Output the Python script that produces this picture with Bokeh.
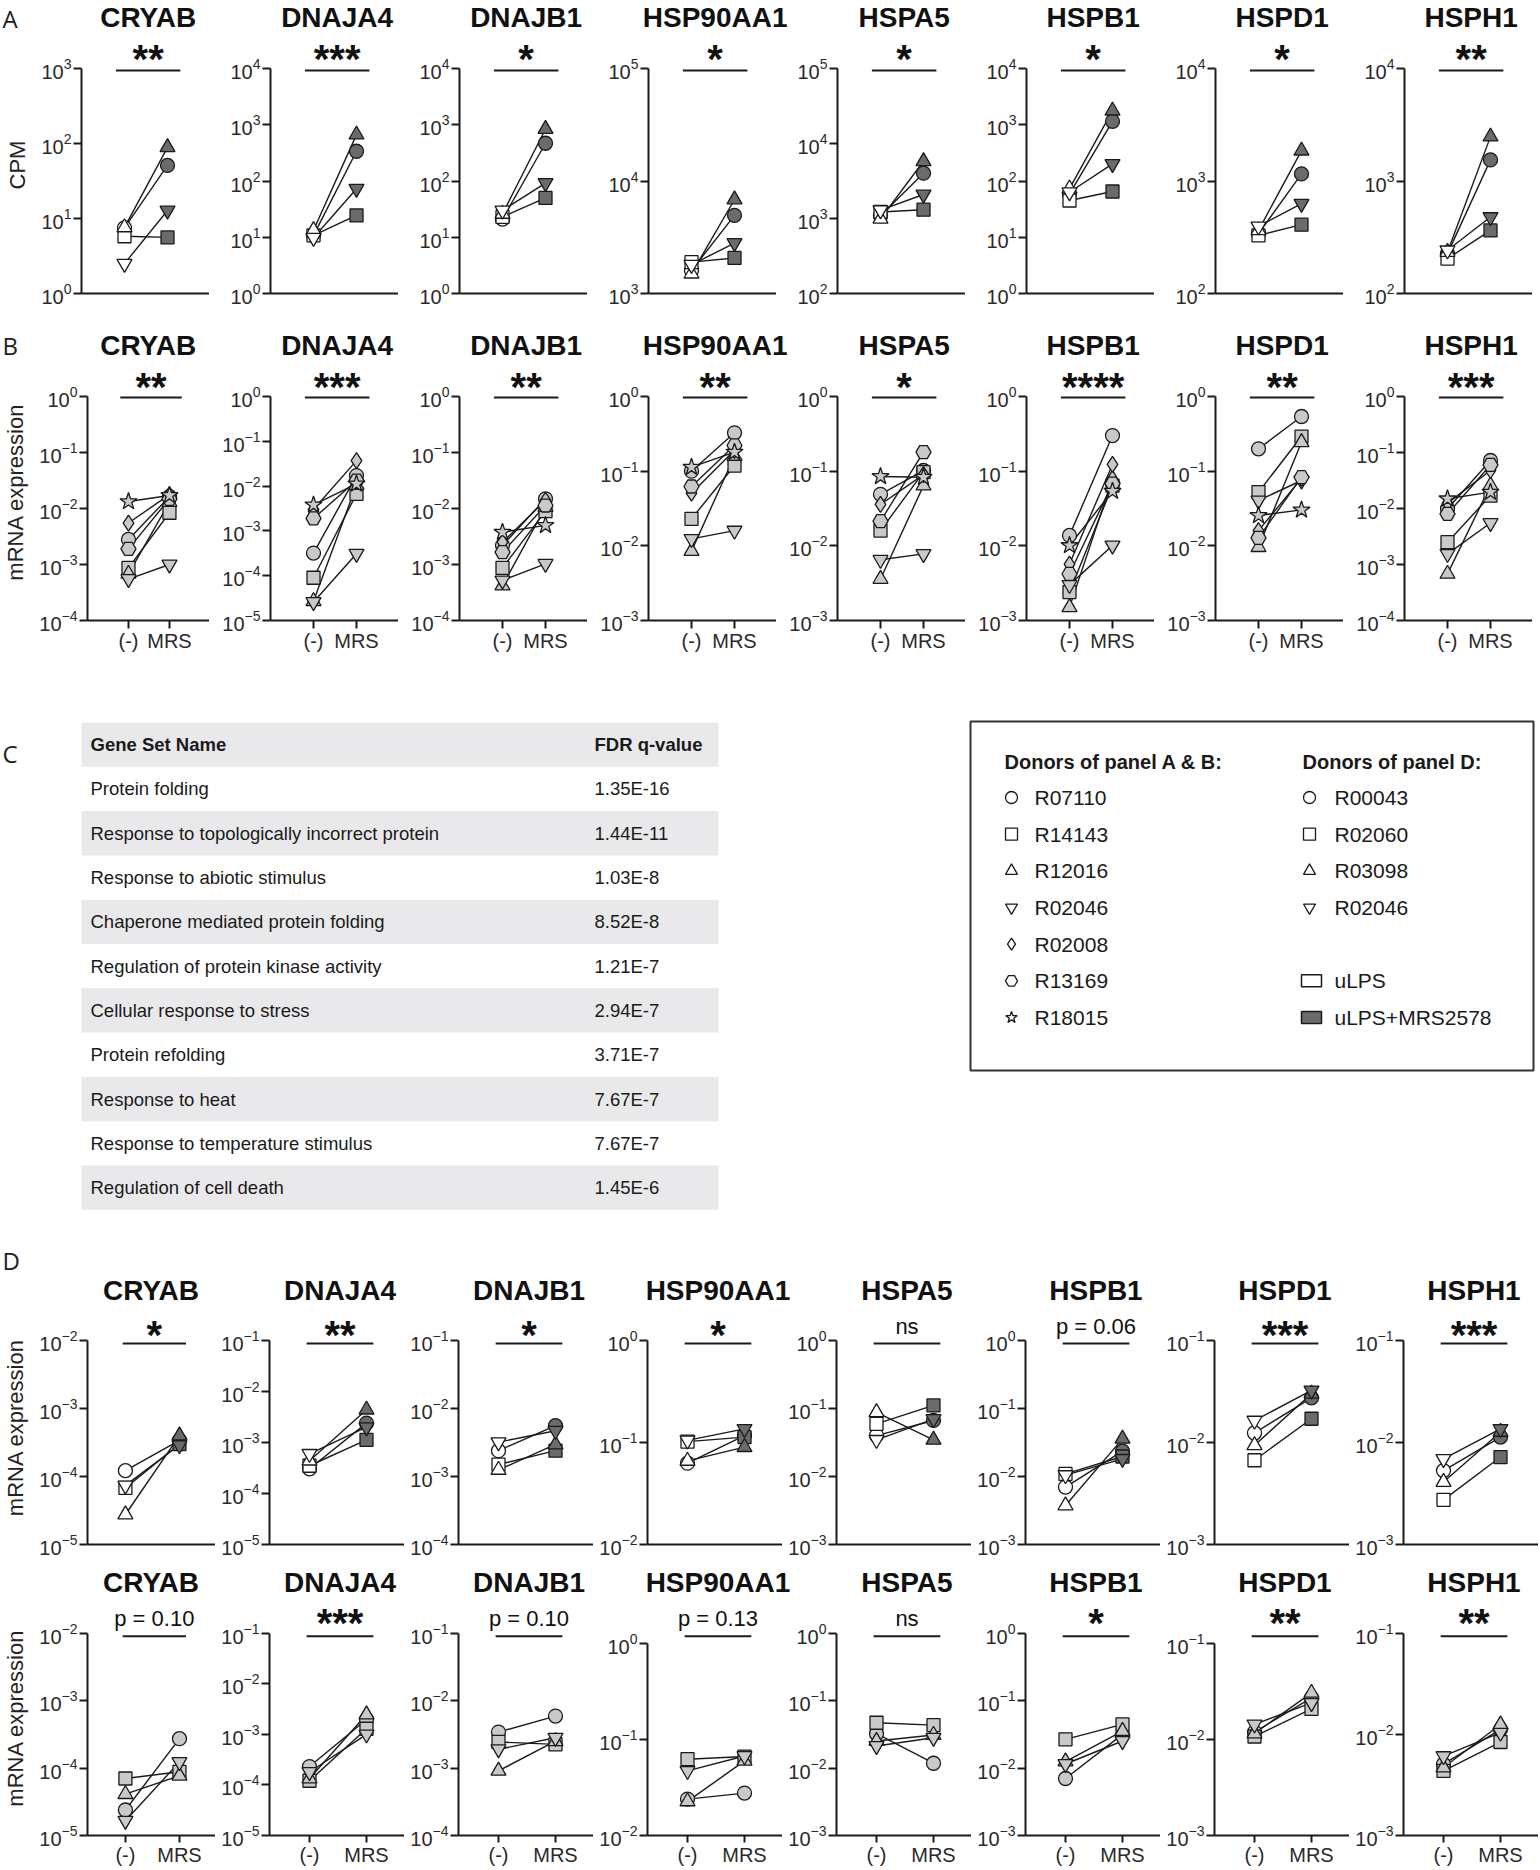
import math
from bokeh.plotting import figure
from bokeh.layouts import column, row
from bokeh.models import Range1d, FixedTicker, ColumnDataSource
from bokeh.core.properties import value
from bokeh.embed import file_html
from bokeh.resources import INLINE

# ---------------- data ----------------
GENES = ["CRYAB", "DNAJA4", "DNAJB1", "HSP90AA1", "HSPA5", "HSPB1", "HSPD1", "HSPH1"]
X_LABELS = ["(-)", "MRS"]

DONORS_AB = ["R07110", "R14143", "R12016", "R02046", "R02008", "R13169", "R18015"]
MARKERS_AB = ["circle", "square", "triangle", "inverted_triangle", "diamond", "hex", "star"]
DONORS_D = ["R00043", "R02060", "R03098", "R02046"]
MARKERS_D = ["circle", "square", "triangle", "inverted_triangle"]

# panel A: CPM (log10 decades of each y axis)
A_DECADES = [(0, 3), (0, 4), (0, 4), (3, 5), (2, 5), (0, 4), (2, 4), (2, 4)]
A_SIG = ["**", "***", "*", "*", "*", "*", "*", "**"]
A_NEG = {
    "R07110": [7.5, 10.8, 21, 1600, 1090, 59, 340, 226],
    "R14143": [5.8, 10.8, 23, 1900, 1220, 45, 329, 204],
    "R12016": [7.6, 13.3, 26, 1500, 990, 73, 364, 234],
    "R02046": [2.5, 9.8, 30, 1800, 1290, 63, 395, 242],
}
A_MRS = {
    "R07110": [51, 338, 469, 4950, 4020, 1150, 1156, 1540],
    "R14143": [5.6, 24.4, 50, 2070, 1310, 65, 409, 364],
    "R12016": [89, 667, 841, 6850, 5800, 1780, 1860, 2480],
    "R02046": [12.8, 73, 92, 2810, 2090, 201, 628, 478],
}

# panel B: mRNA expression
B_DECADES = [(-4, 0), (-5, 0), (-4, 0), (-3, 0), (-3, 0), (-3, 0), (-3, 0), (-4, 0)]
B_SIG = ["**", "***", "**", "**", "*", "****", "**", "***"]
B_NEG = {
    "R07110": [0.0028, 0.00032, 0.0022, 0.100, 0.049, 0.0138, 0.199, 0.0099],
    "R14143": [0.00087, 0.00009, 0.00087, 0.023, 0.016, 0.0024, 0.0524, 0.0025],
    "R12016": [0.00068, 0.000027, 0.00042, 0.0085, 0.0036, 0.0015, 0.0096, 0.00068],
    "R02046": [0.00055, 0.000026, 0.00052, 0.0124, 0.0065, 0.0030, 0.0405, 0.00155],
    "R02008": [0.0055, 0.0030, 0.0025, 0.0507, 0.0358, 0.0057, 0.016, 0.0125],
    "R13169": [0.0019, 0.0019, 0.00166, 0.0623, 0.0214, 0.0042, 0.0128, 0.0080],
    "R18015": [0.0133, 0.0038, 0.00378, 0.113, 0.085, 0.0101, 0.0255, 0.0149],
}
B_MRS = {
    "R07110": [0.0163, 0.0172, 0.0149, 0.326, 0.102, 0.30, 0.54, 0.072],
    "R14143": [0.0084, 0.0067, 0.0090, 0.119, 0.097, 0.064, 0.291, 0.017],
    "R12016": [0.013, 0.0106, 0.0106, 0.16, 0.064, 0.079, 0.244, 0.0258],
    "R02046": [0.0010, 0.00031, 0.00103, 0.016, 0.0078, 0.0101, 0.075, 0.0055],
    "R02008": [0.0177, 0.037, 0.014, 0.19, 0.09, 0.123, 0.08, 0.0477],
    "R13169": [0.0149, 0.0133, 0.0113, 0.221, 0.18, 0.068, 0.083, 0.060],
    "R18015": [0.0171, 0.0112, 0.0050, 0.18, 0.083, 0.054, 0.0303, 0.0196],
}

# panel D, upper row
D1_DECADES = [(-5, -2), (-5, -1), (-4, -1), (-2, 0), (-3, 0), (-3, 0), (-3, -1), (-3, -1)]
D1_SIG = ["*", "**", "*", "*", "ns", "p = 0.06", "***", "***"]
D1_NEG = {
    "R00043": [1.22e-4, 3.05e-4, 2.4e-3, 0.0627, 0.040, 0.0070, 0.0124, 0.0053],
    "R02060": [6.8e-5, 3.5e-4, 1.5e-3, 0.102, 0.0595, 0.0109, 0.0067, 0.00274],
    "R03098": [2.76e-5, 4.4e-4, 1.25e-3, 0.066, 0.088, 0.00375, 0.0094, 0.0041],
    "R02046": [7.4e-5, 6.0e-4, 3.2e-3, 0.105, 0.0346, 0.0105, 0.0164, 0.0069],
}
D1_MRS = {
    "R00043": [3.4e-4, 2.4e-3, 5.6e-3, 0.117, 0.0667, 0.0236, 0.0274, 0.0113],
    "R02060": [3.0e-4, 1.13e-3, 2.4e-3, 0.113, 0.111, 0.0197, 0.0171, 0.0072],
    "R03098": [4.0e-4, 4.4e-3, 2.96e-3, 0.090, 0.0346, 0.0358, 0.030, 0.0127],
    "R02046": [2.9e-4, 2.0e-3, 4.7e-3, 0.136, 0.070, 0.0182, 0.0324, 0.0136],
}

# panel D, lower row
D2_DECADES = [(-5, -2), (-5, -1), (-4, -1), (-2, 0), (-3, 0), (-3, 0), (-3, -1), (-3, -1)]
D2_SIG = ["p = 0.10", "***", "p = 0.10", "p = 0.13", "ns", "*", "**", "**"]
D2_NEG = {
    "R00043": [2.39e-5, 2.31e-4, 3.42e-3, 0.0239, 0.0323, 0.0070, 0.0119, 5.07e-3],
    "R02060": [7.0e-5, 1.21e-4, 2.44e-3, 0.0621, 0.047, 0.0267, 0.0107, 4.35e-3],
    "R03098": [4.1e-5, 1.34e-4, 9.1e-4, 0.0226, 0.0252, 0.0125, 0.0115, 4.7e-3],
    "R02046": [1.66e-5, 1.8e-4, 1.9e-3, 0.047, 0.0213, 0.0115, 0.0143, 6.1e-3],
}
D2_MRS = {
    "R00043": [2.73e-4, 1.97e-3, 5.9e-3, 0.0276, 0.0118, 0.0316, 0.027, 0.0112],
    "R02060": [8.8e-5, 1.29e-3, 2.25e-3, 0.0662, 0.0434, 0.0444, 0.0207, 0.0084],
    "R03098": [7.7e-5, 2.47e-3, 2.5e-3, 0.0597, 0.031, 0.0354, 0.0304, 0.0125],
    "R02046": [1.23e-4, 1.0e-3, 2.82e-3, 0.067, 0.0282, 0.0252, 0.0239, 0.0104],
}

# panel C table
GENE_SETS = ["Protein folding", "Response to topologically incorrect protein",
             "Response to abiotic stimulus", "Chaperone mediated protein folding",
             "Regulation of protein kinase activity", "Cellular response to stress",
             "Protein refolding", "Response to heat", "Response to temperature stimulus",
             "Regulation of cell death"]
FDR_Q = ["1.35E-16", "1.44E-11", "1.03E-8", "8.52E-8", "1.21E-7", "2.94E-7",
         "3.71E-7", "7.67E-7", "7.67E-7", "1.45E-6"]
CONDITIONS = ["uLPS", "uLPS+MRS2578"]

# ---------------- style / geometry ----------------
FONT = "Liberation Sans"
LETTER_FONT = "Open Sans"
INK = "#1a1a1a"
DARK = "#6b6b6b"
LIGHT = "#c9c9c9"
WHITE = "#ffffff"
MSIZE = {"circle": 14, "square": 13, "triangle": 15, "inverted_triangle": 15,
         "diamond": 16, "hex": 15, "star": 18}
TOTAL_W = 1540

GEO_AB = dict(left_first=81, left=61, fw=128, xpu=43.0, first_px=43.0, bar=(0.8, 2.3))
GEO_D = dict(left_first=80, left=54, fw=135, xpu=57.0, first_px=40.0, bar=(0.95, 2.12))

HEAD_A = dict(top=0, bottom=36, letter="A", letter_y=18, title_y=17)
ROW_A = dict(fig_top=36, axis_top=68, axis_bottom=293, fig_bottom=322, bar_y=70,
             star_y=58.5, ptext_y=53)
HEAD_B = dict(top=322, bottom=363, letter="B", letter_y=345, title_y=345)
ROW_B = dict(fig_top=363, axis_top=396, axis_bottom=620, fig_bottom=665, bar_y=397,
             star_y=386, ptext_y=382)
C_TOP, C_BOTTOM = 665, 1240
HEAD_D1 = dict(top=1240, bottom=1310, letter="D", letter_y=1260, title_y=1290)
ROW_D1 = dict(fig_top=1310, axis_top=1340, axis_bottom=1544, fig_bottom=1566, bar_y=1343,
              star_y=1334, ptext_y=1326)
HEAD_D2 = dict(top=1566, bottom=1600, letter=None, letter_y=0, title_y=1582)
ROW_D2 = dict(fig_top=1600, axis_top=1633, axis_bottom=1837, fig_bottom=1868, bar_y=1636,
              star_y=1623, ptext_y=1618, top_override={3: 1643, 6: 1643})


def frame_lefts(geo):
    out, acc = [], 0
    for k in range(len(GENES)):
        left = geo["left_first"] if k == 0 else geo["left"]
        out.append(acc + left)
        acc += left + geo["fw"]
    return out


def make_header(hd, geo):
    h = hd["bottom"] - hd["top"]
    f = figure(width=TOTAL_W, height=h, x_range=Range1d(0, TOTAL_W), y_range=Range1d(h, 0),
               output_backend="svg", toolbar_location=None, title=None, min_border=0,
               x_axis_location=None, y_axis_location=None)
    f.grid.visible = False
    f.outline_line_color = None
    x0 = 1.0 - geo["first_px"] / geo["xpu"]
    xc = (geo["bar"][0] + geo["bar"][1]) / 2
    xs = [fl + (xc - x0) * geo["xpu"] for fl in frame_lefts(geo)]
    f.text(x=xs, y=[hd["title_y"] - hd["top"]] * len(GENES), text=GENES, text_font=value(FONT),
           text_font_style="bold", text_font_size="28px", text_align="center",
           text_baseline="middle", text_color="#111111")
    if hd["letter"]:
        f.text(x=[2], y=[hd["letter_y"] - hd["top"]], text=[hd["letter"]],
               text_font=value(LETTER_FONT), text_font_size="24px", text_align="left",
               text_baseline="middle", text_color="#222222")
    return f


def make_panel(k, sig, dec, neg, mrs, donors, markers, fills, rw, geo, show_x, ylabel):
    lo, hi = dec
    left = geo["left_first"] if k == 0 else geo["left"]
    fw = geo["fw"]
    axis_top = rw.get("top_override", {}).get(k, rw["axis_top"])
    fig_top, axis_bottom, fig_bottom = rw["fig_top"], rw["axis_bottom"], rw["fig_bottom"]
    ppd = (axis_bottom - axis_top) / (hi - lo)

    def yv(Y):
        return 10.0 ** (lo + (axis_bottom - Y) / ppd)

    x0 = 1.0 - geo["first_px"] / geo["xpu"]
    p = figure(width=left + fw, height=fig_bottom - fig_top,
               x_range=Range1d(x0, x0 + fw / geo["xpu"]),
               y_range=Range1d(10.0 ** lo, yv(fig_top)),
               y_axis_type="log", output_backend="svg", toolbar_location=None, title=None,
               min_border_left=left, min_border_right=0, min_border_top=0,
               min_border_bottom=fig_bottom - axis_bottom)
    p.grid.visible = False
    p.outline_line_color = None

    ya = p.yaxis[0]
    ya.ticker = FixedTicker(ticks=[10.0 ** e for e in range(lo, hi + 1)])
    ya.bounds = (10.0 ** lo, 10.0 ** hi)
    ya.axis_line_width = 2
    ya.axis_line_color = INK
    ya.major_tick_line_width = 2
    ya.major_tick_line_color = INK
    ya.major_tick_out = 8
    ya.major_tick_in = 0
    ya.minor_tick_line_color = None
    ya.major_label_text_font = FONT
    ya.major_label_text_font_size = "20px"
    ya.major_label_text_color = "#2a2a2a"
    ya.major_label_standoff = 2
    if ylabel:
        ya.axis_label = ylabel
        ya.axis_label_text_font = FONT
        ya.axis_label_text_font_style = "normal"
        ya.axis_label_text_font_size = "22px"
        ya.axis_label_text_color = "#222222"
        ya.axis_label_standoff = 8

    xa = p.xaxis[0]
    xa.axis_line_width = 2
    xa.axis_line_color = INK
    xa.minor_tick_line_color = None
    if show_x:
        xa.ticker = FixedTicker(ticks=[1, 2])
        xa.major_label_overrides = {1: X_LABELS[0], 2: X_LABELS[1]}
        xa.major_tick_line_width = 2
        xa.major_tick_line_color = INK
        xa.major_tick_out = show_x
        xa.major_tick_in = 0
        xa.major_label_standoff = 1
        xa.major_label_text_font = FONT
        xa.major_label_text_font_size = "20px"
        xa.major_label_text_color = "#2a2a2a"
    else:
        xa.ticker = FixedTicker(ticks=[])
        xa.major_tick_out = 0
        xa.major_tick_in = 0
        xa.major_label_standoff = 0

    n = len(donors)
    y_neg = [neg[d][k] for d in donors]
    y_mrs = [mrs[d][k] for d in donors]
    p.segment(x0=[1] * n, y0=y_neg, x1=[2] * n, y1=y_mrs, line_color=INK, line_width=1.4)
    src = ColumnDataSource(dict(
        x=[1] * n + [2] * n,
        y=y_neg + y_mrs,
        marker=markers + markers,
        size=[MSIZE[m] for m in markers] * 2,
        fill=[fills[0]] * n + [fills[1]] * n,
    ))
    p.scatter(x="x", y="y", marker="marker", size="size", fill_color="fill",
              line_color=INK, line_width=1.3, source=src)

    b0, b1 = geo["bar"]
    xc = (b0 + b1) / 2
    yb = yv(rw["bar_y"])
    p.segment(x0=[b0], y0=[yb], x1=[b1], y1=[yb], line_color=INK, line_width=2)
    if "*" in sig:
        p.text(x=[xc], y=[yv(rw["star_y"])], text=[sig], text_font=value(FONT),
               text_font_style="bold", text_font_size="40px", text_align="center",
               text_baseline="alphabetic", text_color="#111111")
    else:
        p.text(x=[xc], y=[yv(rw["ptext_y"])], text=[sig], text_font=value(FONT),
               text_font_size="22px", text_align="center", text_baseline="middle",
               text_color="#111111")
    return p


def make_row(rw, geo, decades, sigs, neg, mrs, donors, markers, fills, show_x, ylabel):
    figs = []
    for k in range(len(GENES)):
        figs.append(make_panel(k, sigs[k], decades[k], neg, mrs, donors, markers, fills, rw, geo,
                               show_x, ylabel if k == 0 else None))
    return row(*figs)


head_a = make_header(HEAD_A, GEO_AB)
row_a = make_row(ROW_A, GEO_AB, A_DECADES, A_SIG, A_NEG, A_MRS, DONORS_AB[:4], MARKERS_AB[:4],
                 (WHITE, DARK), 0, "CPM")
head_b = make_header(HEAD_B, GEO_AB)
row_b = make_row(ROW_B, GEO_AB, B_DECADES, B_SIG, B_NEG, B_MRS, DONORS_AB, MARKERS_AB,
                 (LIGHT, LIGHT), 8, "mRNA expression")
head_d1 = make_header(HEAD_D1, GEO_D)
row_d1 = make_row(ROW_D1, GEO_D, D1_DECADES, D1_SIG, D1_NEG, D1_MRS, DONORS_D, MARKERS_D,
                  (WHITE, DARK), 0, "mRNA expression")
head_d2 = make_header(HEAD_D2, GEO_D)
row_d2 = make_row(ROW_D2, GEO_D, D2_DECADES, D2_SIG, D2_NEG, D2_MRS, DONORS_D, MARKERS_D,
                  (LIGHT, LIGHT), 7, "mRNA expression")

# ---------------- panel C: table + legend (pixel coordinates, y downwards) ----------------
CH = C_BOTTOM - C_TOP
c = figure(width=TOTAL_W, height=CH, x_range=Range1d(0, TOTAL_W), y_range=Range1d(CH, 0),
           output_backend="svg", toolbar_location=None, title=None, min_border=0,
           x_axis_location=None, y_axis_location=None)
c.grid.visible = False
c.outline_line_color = None

c.text(x=[2], y=[753 - C_TOP], text=["C"], text_font=value(LETTER_FONT),
       text_font_size="24px", text_baseline="middle", text_align="left", text_color="#222222")

T_TOP, T_RH, T_L, T_R = 722 - C_TOP, 44.3, 81, 718
names = ["Gene Set Name"] + GENE_SETS
qs = ["FDR q-value"] + FDR_Q
band = [i for i in range(len(names)) if i % 2 == 0]
c.quad(left=[T_L] * len(band), right=[T_R] * len(band),
       top=[T_TOP + i * T_RH for i in band], bottom=[T_TOP + (i + 1) * T_RH for i in band],
       fill_color="#e9e9eb", line_color=None)
yc = [T_TOP + (i + 0.5) * T_RH for i in range(len(names))]
c.text(x=[90, 594], y=[yc[0], yc[0]], text=[names[0], qs[0]], text_font=value(FONT),
       text_font_style="bold", text_font_size="18.5px", text_baseline="middle", text_color="#1a1a1a")
c.text(x=[90] * len(GENE_SETS), y=yc[1:], text=GENE_SETS, text_font=value(FONT),
       text_font_size="18.5px", text_baseline="middle", text_color="#1a1a1a")
c.text(x=[594] * len(FDR_Q), y=yc[1:], text=FDR_Q, text_font=value(FONT),
       text_font_size="18.5px", text_baseline="middle", text_color="#1a1a1a")

# legend box
c.quad(left=[970], right=[1533], top=[721 - C_TOP], bottom=[1070 - C_TOP], fill_color=None,
       line_color="#333333", line_width=2)
c.text(x=[1004, 1302], y=[761 - C_TOP] * 2, text=["Donors of panel A & B:", "Donors of panel D:"],
       text_font=value(FONT), text_font_style="bold", text_font_size="20px",
       text_baseline="middle", text_color="#1a1a1a")
L_Y0, L_DY = 797 - C_TOP, 36.67
ly_ab = [L_Y0 + i * L_DY for i in range(len(DONORS_AB))]
c.scatter(x=[1011] * len(DONORS_AB), y=ly_ab, marker=MARKERS_AB, size=12,
          fill_color="white", line_color=INK, line_width=1.3)
c.text(x=[1034] * len(DONORS_AB), y=ly_ab, text=DONORS_AB, text_font=value(FONT),
       text_font_size="21px", text_baseline="middle", text_color="#1a1a1a")
ly_d = [L_Y0 + i * L_DY for i in range(len(DONORS_D))]
c.scatter(x=[1309] * len(DONORS_D), y=ly_d, marker=MARKERS_D, size=12,
          fill_color="white", line_color=INK, line_width=1.3)
c.text(x=[1334] * len(DONORS_D), y=ly_d, text=DONORS_D, text_font=value(FONT),
       text_font_size="21px", text_baseline="middle", text_color="#1a1a1a")
ly_c = [L_Y0 + 5 * L_DY, L_Y0 + 6 * L_DY]
c.quad(left=[1301, 1301], right=[1321, 1321], top=[y - 6 for y in ly_c],
       bottom=[y + 6 for y in ly_c], fill_color=[WHITE, DARK], line_color=INK, line_width=1.5)
c.text(x=[1334, 1334], y=ly_c, text=CONDITIONS, text_font=value(FONT),
       text_font_size="21px", text_baseline="middle", text_color="#1a1a1a")

layout = column(head_a, row_a, head_b, row_b, c, head_d1, row_d1, head_d2, row_d2)
open("out.html", "w").write(file_html(layout, INLINE))
